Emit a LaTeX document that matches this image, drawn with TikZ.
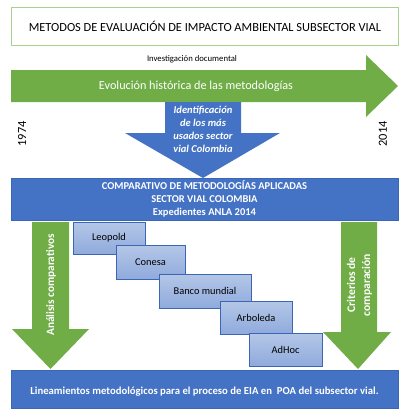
\documentclass[tikz,border=0pt]{standalone}
\usepackage{fontspec}
\setmainfont{Carlito}
\usetikzlibrary{positioning}
\definecolor{vgreen}{HTML}{70AD47}
\definecolor{vblue}{HTML}{4472C4}
\definecolor{vedge}{HTML}{3A66B5}
\definecolor{vtop}{HTML}{B4C7E7}
\definecolor{vbot}{HTML}{8FAADC}
\definecolor{tgreen}{HTML}{A9D18E}
\begin{document}
\begin{tikzpicture}[x=1pt, y=-1pt,
    wtext/.style={text=white, font=\bfseries\fontsize{10.5}{13}\selectfont, align=center, inner sep=0pt},
    method/.style={draw=vedge, line width=0.6pt, top color=vtop, bottom color=vbot, inner sep=0pt,
        font=\fontsize{10.4}{12}\selectfont}]
    \useasboundingbox (0,0) rectangle (402,418);

    % title
    \draw[tgreen, line width=1pt, fill=white] (11,7) rectangle (398,45);
    \node[font=\fontsize{12.4}{15}\selectfont] (title) at (205,26) {METODOS DE EVALUACIÓN DE IMPACTO AMBIENTAL SUBSECTOR VIAL};

    % timeline arrow
    \node[font=\fontsize{8.7}{10}\selectfont] (invdoc) at (192,59) {Investigación documental};
    \fill[vgreen] (11,70) -- (366,70) -- (366,55) -- (398,86) -- (366,117) -- (366,102) -- (11,102) -- cycle;
    \node[text=white, font=\fontsize{12.2}{15}\selectfont] (evol) at (196,86) {Evolución histórica de las metodologías};
    \node[rotate=90, font=\fontsize{12.4}{14}\selectfont] (y1974) at (22,134) {1974};
    \node[rotate=90, font=\fontsize{12.4}{14}\selectfont] (y2014) at (383,134) {2014};

    % down arrow
    \fill[vblue] (165,102) -- (241,102) -- (241,133) -- (280,133) -- (203,178) -- (125,133) -- (165,133) -- cycle;
    \node[wtext, font=\bfseries\itshape\fontsize{10.5}{12.8}\selectfont] (ident) at (203,129.5)
        {Identificación\\de los más\\usados sector\\vial Colombia};

    % comparison box
    \draw[vedge, fill=vblue, line width=0.6pt] (11,178) rectangle (398,220);
    \node[wtext] (comp) at (204.5,199) {COMPARATIVO DE METODOLOGÍAS APLICADAS\\SECTOR VIAL COLOMBIA\\Expedientes ANLA 2014};

    % side arrows
    \fill[vgreen] (32,222) -- (69,222) -- (69,329) -- (89,329) -- (50.5,369) -- (12,329) -- (32,329) -- cycle;
    \node[wtext, font=\bfseries\fontsize{11.3}{13}\selectfont, rotate=90] (analisis) at (51,285) {Análisis comparativos};
    \fill[vgreen] (341,222) -- (377,222) -- (377,332) -- (391,332) -- (358,369) -- (323,332) -- (341,332) -- cycle;
    \node[wtext, font=\bfseries\fontsize{11.6}{15}\selectfont, rotate=90] (criterios) at (359.5,285) {Criterios de\\comparación};

    % methods
    \node[method, minimum width=72pt, minimum height=32pt] (leopold) at (109,238) {Leopold};
    \node[method, minimum width=69pt, minimum height=34pt] (conesa) at (150.5,262) {Conesa};
    \node[method, minimum width=92pt, minimum height=34pt] (banco) at (205,291) {Banco mundial};
    \node[method, minimum width=72pt, minimum height=33pt] (arboleda) at (256,317.5) {Arboleda};
    \node[method, minimum width=73pt, minimum height=33pt] (adhoc) at (285.5,349.5) {AdHoc};

    % result box
    \draw[vedge, fill=vblue, line width=0.6pt] (11,370) rectangle (398,408);
    \node[wtext, font=\bfseries\fontsize{10.7}{12}\selectfont] (lineam) at (204.5,392)
        {Lineamientos metodológicos para el proceso de EIA en~~POA del subsector vial.};
\end{tikzpicture}
\end{document}
